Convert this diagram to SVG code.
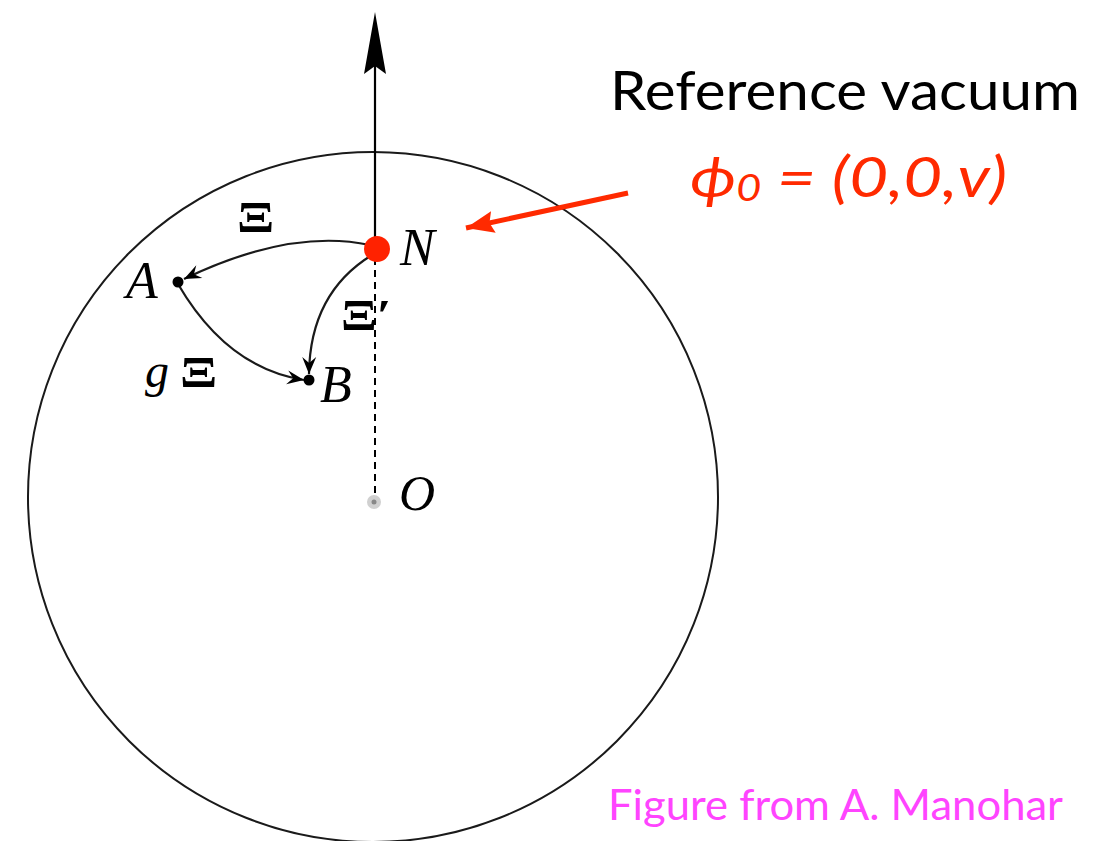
<svg xmlns="http://www.w3.org/2000/svg" width="1093" height="841" viewBox="0 0 1093 841">
<style>
.math{font-family:"Liberation Serif","DejaVu Serif",serif;font-style:italic;fill:#000}
.greek{font-family:"Liberation Serif","DejaVu Serif",serif;font-style:normal;font-weight:bold;fill:#000;font-size:44px}
.sans{font-family:Lato,"Open Sans","Liberation Sans",sans-serif}
.arc{fill:none;stroke:#1a1a1a;stroke-width:2.2}
</style>
<defs>
<marker id="tex" markerUnits="userSpaceOnUse" viewBox="-18 -9 20 18" refX="0" refY="0" markerWidth="20" markerHeight="18" orient="auto">
<path d="M0,0 L-17,-7 L-11,0 L-17,7 Z" fill="#000"/>
</marker>
<marker id="red" markerUnits="userSpaceOnUse" viewBox="-30 -12 32 24" refX="0" refY="0" markerWidth="32" markerHeight="24" orient="auto">
<path d="M0,0 L-28,-11 L-24,0 L-28,11 Z" fill="#ff2a00"/>
</marker>
</defs>
<rect width="1093" height="841" fill="#fff"/>
<g id="sphere">
<circle cx="373" cy="497" r="345" fill="none" stroke="#1a1a1a" stroke-width="2"/>
</g>
<g id="connectors">
<line x1="375" y1="248" x2="375" y2="60" stroke="#000" stroke-width="2.2"/>
<path d="M375,12 L386,74 L375,66 L364,74 Z" fill="#000"/>
<line x1="375" y1="258" x2="375" y2="500" stroke="#000" stroke-width="2" stroke-dasharray="7,5"/>
<path class="arc" d="M370,245 Q290,228 184,279" marker-end="url(#tex)"/>
<path class="arc" d="M372,255 Q310,293 309,374" marker-end="url(#tex)"/>
<path class="arc" d="M178,284 Q227,368 304,380" marker-end="url(#tex)"/>
<line x1="628" y1="193" x2="466" y2="228" stroke="#ff2a00" stroke-width="5" marker-end="url(#red)"/>
</g>
<g id="O">
<circle cx="374" cy="502" r="7" fill="#d0d0d0"/>
<circle cx="374" cy="502" r="2.5" fill="#888"/>
<text class="math" x="399" y="510" font-size="50">O</text>
</g>
<g id="N">
<circle cx="377" cy="249" r="13" fill="#ff2200"/>
<text class="math" x="400" y="265" font-size="52">N</text>
</g>
<g id="A">
<circle cx="178" cy="282" r="5.5" fill="#000"/>
<text class="math" x="126" y="298" font-size="52">A</text>
</g>
<g id="B">
<circle cx="309" cy="380" r="5.5" fill="#000"/>
<text class="math" x="320" y="402" font-size="52">B</text>
</g>
<g id="labels">
<text class="greek" transform="translate(237 232) scale(1.25 1)">&#926;</text>
<text class="greek" transform="translate(341 330) scale(1.2 1)">&#926;′</text>
<text class="math" x="145" y="387" font-size="48">g</text>
<text class="greek" transform="translate(180 387) scale(1.25 1)">&#926;</text>
<text class="sans" x="610" y="110" font-size="55" textLength="470" lengthAdjust="spacingAndGlyphs" fill="#000">Reference vacuum</text>
<text class="sans" x="690" y="197" font-size="56" font-style="italic" fill="#ff2a00" textLength="317" lengthAdjust="spacingAndGlyphs">ϕ<tspan font-size="36" dy="4">0</tspan><tspan dy="-4"> = (0,0,v)</tspan></text>
<text class="sans" x="608" y="820" font-size="42" textLength="455" lengthAdjust="spacingAndGlyphs" fill="#ff44ff">Figure from A. Manohar</text>
</g>
</svg>
